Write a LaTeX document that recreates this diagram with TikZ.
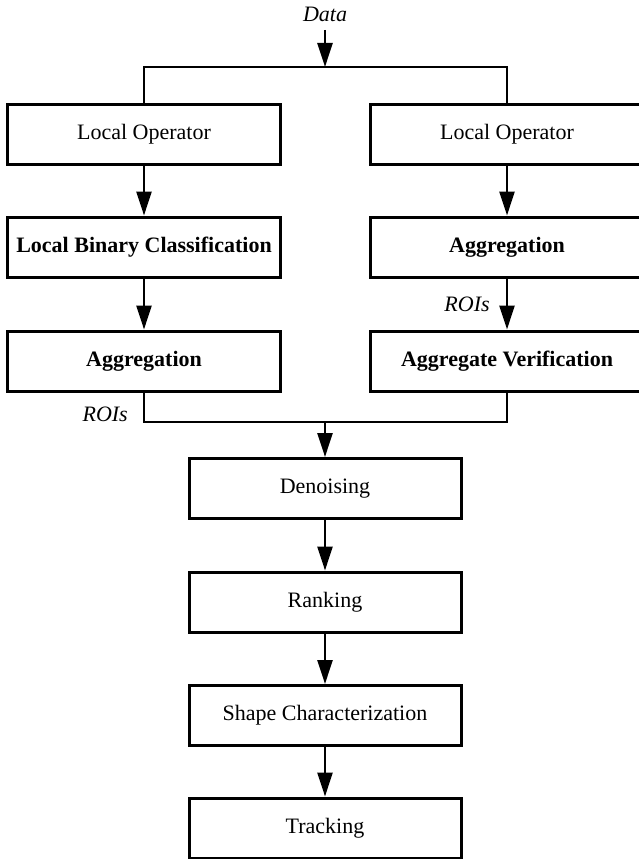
\documentclass[tikz,border=0pt]{standalone}
\usepackage{fontspec}
\setmainfont{Liberation Serif}
\usetikzlibrary{arrows.meta}
\begin{document}
\begin{tikzpicture}[x=1pt,y=-1pt,
  font=\fontsize{22}{26}\selectfont,
  box/.style={draw,line width=3pt,minimum width=273pt,minimum height=60pt,inner sep=0pt,anchor=center},
  conn/.style={line width=2.6pt},
  arr/.style={conn,-{Triangle[length=24pt,width=15pt]}},
  lbl/.style={font=\fontsize{22}{26}\selectfont\itshape,inner sep=0pt}]
\clip (0,0) rectangle (639,859);
% top input
\node[lbl] (data) at (325,14) {Data};
\coordinate (din) at (325,30);
\coordinate (split) at (325,67);
% left column
\node[box] (lo1) at (144,134) {Local Operator};
\node[box] (lbc) at (144,247) {\bfseries Local Binary Classification};
\node[box] (ag1) at (144,361) {\bfseries Aggregation};
% right column
\node[box] (lo2) at (507,134) {Local Operator};
\node[box] (ag2) at (507,247) {\bfseries Aggregation};
\node[box] (av) at (507,361) {\bfseries Aggregate Verification};
% bottom chain
\node[box,minimum width=272pt] (den) at (325,488.5) {Denoising};
\node[box,minimum width=272pt] (rank) at (325,602) {Ranking};
\node[box,minimum width=272pt] (shape) at (325,715.5) {Shape Characterization};
\node[box,minimum width=272pt] (track) at (325,828) {Tracking};
\coordinate (merge) at (325,422);
% connectors
\draw[arr] (din) -- (split);
\draw[conn] (lo1.north) |- (split) -| (lo2.north);
\draw[arr] (lo1) -- (lbc);
\draw[arr] (lbc) -- (ag1);
\draw[arr] (lo2) -- (ag2);
\draw[arr] (ag2) -- node[lbl,left=16pt] (roi2) {ROIs} (av);
\draw[conn] (ag1.south) |- (merge) -| (av.south);
\node[lbl,anchor=east] (roi1) at (128,414) {ROIs};
\draw[arr] (merge) -- (den);
\draw[arr] (den) -- (rank);
\draw[arr] (rank) -- (shape);
\draw[arr] (shape) -- (track);
\end{tikzpicture}
\end{document}
